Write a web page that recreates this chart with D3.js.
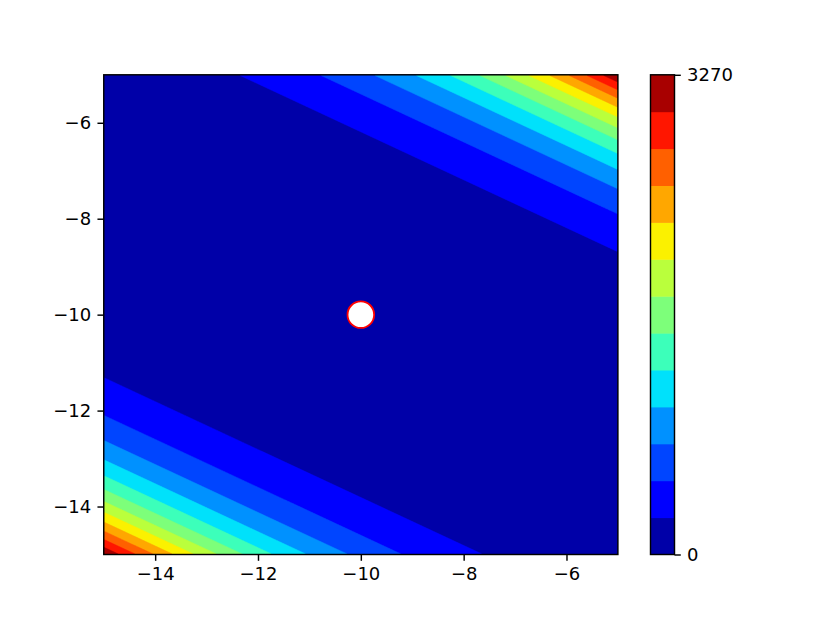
<!DOCTYPE html>
<html>
<head>
<meta charset="utf-8">
<script src="https://cdn.jsdelivr.net/npm/d3@7"></script>
<style>
  html, body { margin: 0; padding: 0; background: #fff; }
  svg { display: block; font-family: "DejaVu Sans", sans-serif; }
</style>
</head>
<body>
<svg id="chart" width="830" height="623"></svg>
<script>
// ---- data ----
const xDomain = [-15, -5];
const yDomain = [-15, -5];
const xTicks = [-14, -12, -10, -8, -6];
const yTicks = [-14, -12, -10, -8, -6];
const levelMin = 0;
const levelMax = 3270;
const levelCount = 13;              // number of filled bands
const colorbarTicks = [0, 3270];
const center = [-10, -10];          // white marker, also the valley of the surface
const direction = [1, 2];           // surface depends on u = 1*(x+10) + 2*(y+10)
const coefQuartic = 0.06114;        // f = a*u^4 + b*u^2
const coefQuadratic = 0.777;
const gridN = 320;

// ---- layout ----
const plot = { left: 103.75, right: 617.9, top: 74.8, bottom: 554.5 };
const cbar = { left: 650.5, right: 674.5, top: 74.8, bottom: 554.5 };
const fontSize = 18;
const tickLen = 6.3;
const pad = 6.3;

const svg = d3.select("#chart");

const x = d3.scaleLinear().domain(xDomain).range([plot.left, plot.right]);
const y = d3.scaleLinear().domain(yDomain).range([plot.bottom, plot.top]);

// matplotlib "jet" with 256-entry lookup
const jetR = [[0,0],[0.35,0],[0.66,1],[0.89,1],[1,0.5]];
const jetG = [[0,0],[0.125,0],[0.375,1],[0.64,1],[0.91,0],[1,0]];
const jetB = [[0,0.5],[0.11,1],[0.34,1],[0.65,0],[1,0]];
function seg(pts, t) {
  for (let i = 1; i < pts.length; i++) {
    if (t <= pts[i][0]) {
      const [x0, y0] = pts[i-1], [x1, y1] = pts[i];
      return y0 + (y1 - y0) * (t - x0) / (x1 - x0);
    }
  }
  return pts[pts.length-1][1];
}
function jet(t) {
  const idx = Math.max(0, Math.min(255, Math.floor(t * 256)));
  const v = idx / 255;
  return d3.rgb(seg(jetR, v) * 255, seg(jetG, v) * 255, seg(jetB, v) * 255).formatHex();
}

const levels = d3.range(levelCount + 1).map(i => levelMin + (levelMax - levelMin) * i / levelCount);
const layerColors = d3.range(levelCount).map(i => jet((i + 0.5) / levelCount));

// ---- surface sampled on a grid (row 0 = top) ----
function surface(px, py) {
  const u = direction[0] * (px - center[0]) + direction[1] * (py - center[1]);
  const u2 = u * u;
  return coefQuartic * u2 * u2 + coefQuadratic * u2;
}
const values = new Float64Array(gridN * gridN);
for (let j = 0; j < gridN; j++) {
  const py = yDomain[1] - (j + 0.5) * (yDomain[1] - yDomain[0]) / gridN;
  for (let i = 0; i < gridN; i++) {
    const px = xDomain[0] + (i + 0.5) * (xDomain[1] - xDomain[0]) / gridN;
    values[j * gridN + i] = surface(px, py);
  }
}

const gx = d3.scaleLinear().domain([0, gridN]).range([plot.left, plot.right]);
const gy = d3.scaleLinear().domain([0, gridN]).range([plot.top, plot.bottom]);
const proj = d3.geoTransform({ point(a, b) { this.stream.point(gx(a), gy(b)); } });
const path = d3.geoPath(proj);

const contours = d3.contours().size([gridN, gridN]).thresholds(levels.slice(0, levelCount))(values);

svg.append("defs").append("clipPath").attr("id", "plotclip")
  .append("rect")
  .attr("x", plot.left).attr("y", plot.top)
  .attr("width", plot.right - plot.left).attr("height", plot.bottom - plot.top);

const g = svg.append("g").attr("clip-path", "url(#plotclip)");
g.append("rect")
  .attr("x", plot.left).attr("y", plot.top)
  .attr("width", plot.right - plot.left).attr("height", plot.bottom - plot.top)
  .attr("fill", layerColors[0]);
g.selectAll("path.band")
  .data(contours)
  .join("path")
  .attr("class", "band")
  .attr("d", path)
  .attr("fill", (d, i) => layerColors[i])
  .attr("stroke", (d, i) => layerColors[i])
  .attr("stroke-width", 0.5);

// marker
svg.append("circle")
  .attr("cx", x(center[0])).attr("cy", y(center[1]))
  .attr("r", 13.3)
  .attr("fill", "#ffffff")
  .attr("stroke", "#ff0000")
  .attr("stroke-width", 1.8);

// axes
const fmt = d => (d < 0 ? "\u2212" : "") + Math.abs(d);
const xAxis = d3.axisBottom(x).tickValues(xTicks).tickFormat(fmt).tickSize(tickLen).tickPadding(pad);
const yAxis = d3.axisLeft(y).tickValues(yTicks).tickFormat(fmt).tickSize(tickLen).tickPadding(pad);

const gxA = svg.append("g").attr("transform", `translate(0,${plot.bottom})`).call(xAxis);
const gyA = svg.append("g").attr("transform", `translate(${plot.left},0)`).call(yAxis);
[gxA, gyA].forEach(a => {
  a.select(".domain").remove();
  a.selectAll(".tick line").attr("stroke", "#000").attr("stroke-width", 1.44);
  a.selectAll(".tick text").attr("fill", "#000")
    .style("font-size", fontSize + "px").style("font-family", "DejaVu Sans, sans-serif");
});

// frame
svg.append("rect")
  .attr("x", plot.left).attr("y", plot.top)
  .attr("width", plot.right - plot.left).attr("height", plot.bottom - plot.top)
  .attr("fill", "none").attr("stroke", "#000").attr("stroke-width", 1.44);

// ---- colorbar ----
const cy = d3.scaleLinear().domain([levelMin, levelMax]).range([cbar.bottom, cbar.top]);
svg.append("g").selectAll("rect")
  .data(d3.range(levelCount))
  .join("rect")
  .attr("x", cbar.left)
  .attr("width", cbar.right - cbar.left)
  .attr("y", i => cy(levels[i + 1]))
  .attr("height", i => cy(levels[i]) - cy(levels[i + 1]) + 0.5)
  .attr("fill", i => layerColors[i]);
svg.append("rect")
  .attr("x", cbar.left).attr("y", cbar.top)
  .attr("width", cbar.right - cbar.left).attr("height", cbar.bottom - cbar.top)
  .attr("fill", "none").attr("stroke", "#000").attr("stroke-width", 1.44);
const cAxis = d3.axisRight(cy).tickValues(colorbarTicks).tickFormat(d3.format("d")).tickSize(tickLen).tickPadding(pad);
const gc = svg.append("g").attr("transform", `translate(${cbar.right},0)`).call(cAxis);
gc.select(".domain").remove();
gc.selectAll(".tick line").attr("stroke", "#000").attr("stroke-width", 1.44);
gc.selectAll(".tick text").attr("fill", "#000")
  .style("font-size", fontSize + "px").style("font-family", "DejaVu Sans, sans-serif");
</script>
</body>
</html>
